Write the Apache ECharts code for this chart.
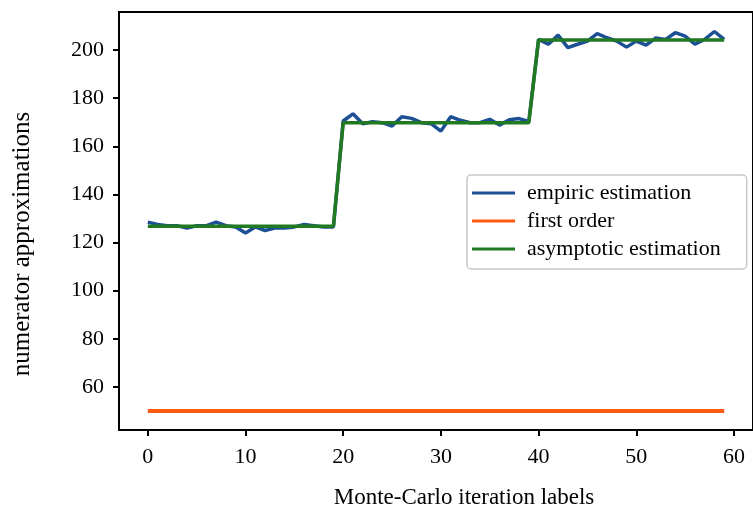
<!DOCTYPE html>
<html>
<head>
<meta charset="utf-8">
<script src="https://cdn.jsdelivr.net/npm/echarts@6/dist/echarts.min.js"></script>
<style>html,body{margin:0;padding:0;background:#fff}#c{width:753px;height:512px}</style>
</head>
<body>
<div id="c"></div>
<script>
const xTickLabels = [0, 10, 20, 30, 40, 50, 60];
const yTickLabels = [60, 80, 100, 120, 140, 160, 180, 200];
const seriesNames = ['empiric estimation', 'first order', 'asymptotic estimation'];
const empiric = [
  128.5, 127.5, 127, 127, 126, 127, 127, 128.5, 127, 126.5,
  124, 126.5, 125, 126, 126, 126.5, 127.5, 127, 126.5, 126.5,
  170.5, 173.5, 169.4, 170.2, 169.8, 168.4, 172.3, 171.6, 169.8, 169.4,
  166.3, 172.3, 170.8, 169.8, 169.8, 171.2, 168.8, 171, 171.5, 170.3,
  204.4, 202.4, 206.2, 201, 202.4, 203.7, 206.8, 205.1, 203.7, 201.2,
  203.7, 202, 205, 204.4, 207.2, 205.8, 202.4, 204.4, 207.7, 204.4
];
const firstOrder = [
  50, 50, 50, 50, 50, 50, 50, 50, 50, 50,
  50, 50, 50, 50, 50, 50, 50, 50, 50, 50,
  50, 50, 50, 50, 50, 50, 50, 50, 50, 50,
  50, 50, 50, 50, 50, 50, 50, 50, 50, 50,
  50, 50, 50, 50, 50, 50, 50, 50, 50, 50,
  50, 50, 50, 50, 50, 50, 50, 50, 50, 50
];
const asymptotic = [
  126.8, 126.8, 126.8, 126.8, 126.8, 126.8, 126.8, 126.8, 126.8, 126.8,
  126.8, 126.8, 126.8, 126.8, 126.8, 126.8, 126.8, 126.8, 126.8, 126.8,
  169.8, 169.8, 169.8, 169.8, 169.8, 169.8, 169.8, 169.8, 169.8, 169.8,
  169.8, 169.8, 169.8, 169.8, 169.8, 169.8, 169.8, 169.8, 169.8, 169.8,
  204.2, 204.2, 204.2, 204.2, 204.2, 204.2, 204.2, 204.2, 204.2, 204.2,
  204.2, 204.2, 204.2, 204.2, 204.2, 204.2, 204.2, 204.2, 204.2, 204.2
];
const xTitle = 'Monte-Carlo iteration labels';
const yTitle = 'numerator approximations';

const FONT = '"Liberation Serif", "Times New Roman", serif';
const pairs = arr => arr.map((v, i) => [i, v]);
const LEGEND_ICON = 'path://M0,0 L43,0 L43,3 L0,3 Z';

const chart = echarts.init(document.getElementById('c'), null, {renderer: 'canvas'});
chart.setOption({
  animation: false,
  backgroundColor: '#fff',
  grid: {
    left: 119, top: 12, right: -2, bottom: 82,
    show: true, borderColor: '#000', borderWidth: 2, backgroundColor: 'transparent'
  },
  xAxis: {
    type: 'value', min: -2.95, max: 61.95,
    axisLine: {show: true, onZero: false, lineStyle: {color: '#000', width: 2}},
    axisTick: {show: true, length: 6, lineStyle: {color: '#000', width: 2}, customValues: xTickLabels},
    axisLabel: {color: '#000', fontFamily: FONT, fontSize: 22, margin: 16, customValues: xTickLabels},
    splitLine: {show: false}
  },
  yAxis: {
    type: 'value', min: 42.1, max: 215.8,
    axisLine: {show: true, onZero: false, lineStyle: {color: '#000', width: 2}},
    axisTick: {show: true, length: 6, lineStyle: {color: '#000', width: 2}, customValues: yTickLabels},
    axisLabel: {color: '#000', fontFamily: FONT, fontSize: 22, margin: 15, customValues: yTickLabels},
    splitLine: {show: false}
  },
  legend: {
    orient: 'vertical', left: 467, top: 175,
    padding: [7, 26, 9, 5],
    itemWidth: 43, itemHeight: 3, itemGap: 6,
    icon: LEGEND_ICON,
    borderColor: '#c8c8c8', borderWidth: 1.5, borderRadius: 4, backgroundColor: '#fff',
    textStyle: {fontFamily: FONT, fontSize: 22, lineHeight: 22, color: '#000', padding: [0, 0, 0, 7]},
    data: seriesNames
  },
  graphic: [
    {type: 'text', x: 464, y: 498, style: {text: xTitle, font: '23px ' + FONT, fill: '#000', align: 'center', verticalAlign: 'middle'}},
    {type: 'text', x: 22, y: 244, rotation: Math.PI / 2, style: {text: yTitle, font: '25px ' + FONT, fill: '#000', align: 'center', verticalAlign: 'middle'}}
  ],
  series: [
    {name: seriesNames[0], type: 'line', data: pairs(empiric), showSymbol: false, symbol: 'none', z: 3,
     lineStyle: {color: '#1c4f93', width: 3.5}, itemStyle: {color: '#1c4f93'}},
    {name: seriesNames[1], type: 'line', data: pairs(firstOrder), showSymbol: false, symbol: 'none', z: 2,
     lineStyle: {color: '#ff5a14', width: 4}, itemStyle: {color: '#ff5a14'}},
    {name: seriesNames[2], type: 'line', data: pairs(asymptotic), showSymbol: false, symbol: 'none', z: 4,
     lineStyle: {color: '#217a21', width: 3.5}, itemStyle: {color: '#217a21'}}
  ]
});
</script>
</body>
</html>
